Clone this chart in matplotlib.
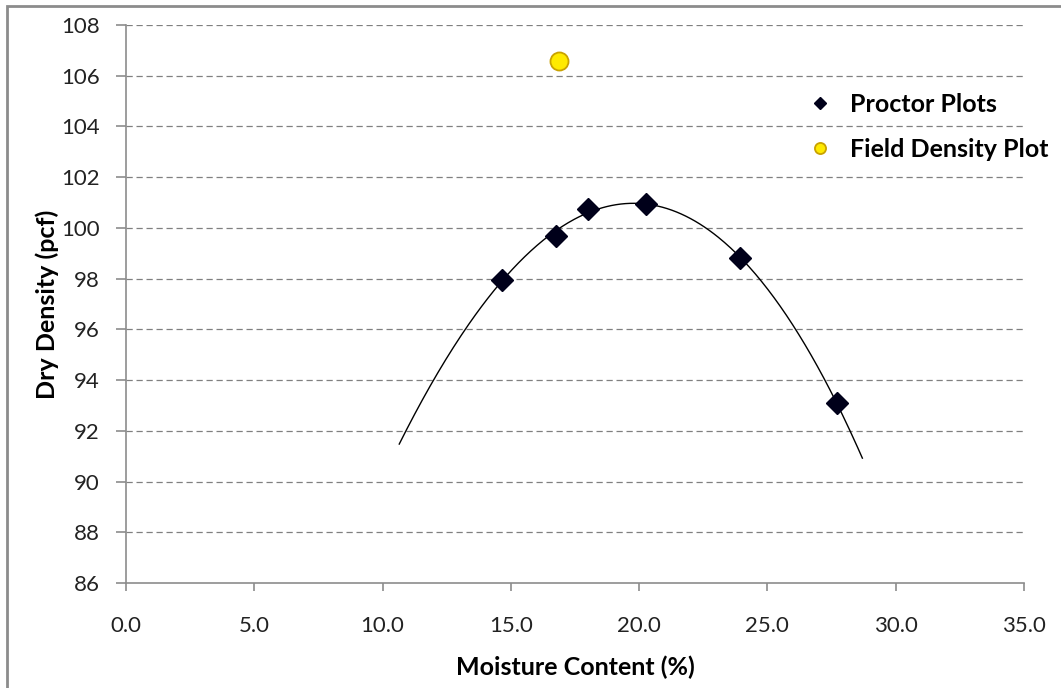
import numpy as np
import matplotlib
matplotlib.use("Agg")
import matplotlib.pyplot as plt
from matplotlib.lines import Line2D
from matplotlib.patches import Rectangle

# Data
proctor_moisture = [14.65, 16.75, 18.0, 20.25, 23.95, 27.7]
proctor_density = [97.95, 99.7, 100.75, 100.95, 98.8, 93.1]
field_moisture = [16.87]
field_density = [106.57]
trend_range = [10.65, 28.7]
trend_order = 3
x_ticks = [0, 5, 10, 15, 20, 25, 30, 35]
y_ticks = [86, 88, 90, 92, 94, 96, 98, 100, 102, 104, 106, 108]
series_labels = ["Proctor Plots", "Field Density Plot"]

plt.rcParams['font.family'] = ['Lato', 'DejaVu Sans']

fig = plt.figure(figsize=(10.61, 6.88), dpi=100)
fig.patch.set_facecolor('white')
# figure border (left/top visible)
fig.patches.append(Rectangle((7/1061, -0.05), 1.2, 1 - 6/688 + 0.05, transform=fig.transFigure,
                             fill=False, edgecolor='#8c8c8c', linewidth=2, zorder=0))

ax = fig.add_axes([126/1061, 1 - 583/688, (1024 - 126)/1061, (583 - 25)/688])
ax.set_xlim(0, 35)
ax.set_ylim(86, 108)
ax.set_xticks(x_ticks)
ax.set_xticklabels([f"{v:.1f}" for v in x_ticks])
ax.set_yticks(y_ticks)
ax.set_yticklabels([str(v) for v in y_ticks])

for y in y_ticks[1:]:
    ax.axhline(y, color='#808080', linestyle=(0, (5, 3)), linewidth=0.9, zorder=1)

for s in ['top', 'right']:
    ax.spines[s].set_visible(False)
for s in ['left', 'bottom']:
    ax.spines[s].set_color('#8c8c8c')
    ax.spines[s].set_linewidth(1.2)
ax.tick_params(axis='both', direction='out', color='#8c8c8c', width=1.2, labelsize=16,
               labelcolor='#222222')
ax.tick_params(axis='y', length=7, pad=12)
ax.tick_params(axis='x', length=6, pad=18)

# trendline
coef = np.polyfit(proctor_moisture, proctor_density, trend_order)
xs = np.linspace(trend_range[0], trend_range[1], 300)
ax.plot(xs, np.polyval(coef, xs), color='black', linewidth=1.0, zorder=3)

ax.plot(proctor_moisture, proctor_density, linestyle='none', marker='D', markersize=11.5,
        color='#00001a', zorder=4, clip_on=False)
ax.plot(field_moisture, field_density, linestyle='none', marker='o', markersize=13,
        markerfacecolor='#FFEA00', markeredgecolor='#C9A200', markeredgewidth=1.3, zorder=4,
        clip_on=False)

ax.set_xlabel("Moisture Content (%)", fontsize=18, fontweight='bold', labelpad=14)
ax.set_ylabel("Dry Density (pcf)", fontsize=18, fontweight='bold', labelpad=1)

handles = [
    Line2D([], [], linestyle='none', marker='D', markersize=6, color='#00001a'),
    Line2D([], [], linestyle='none', marker='o', markersize=8, markerfacecolor='#FFEA00',
           markeredgecolor='#C9A200', markeredgewidth=1.3),
]
leg = fig.legend(handles, series_labels, loc='upper left', bbox_to_anchor=(795/1061, 1 - 80/688),
                 frameon=False, prop={'size': 18, 'weight': 'bold'}, handlelength=1.0,
                 handletextpad=0.7, labelspacing=0.9, borderpad=0)

fig.savefig("out.png", dpi=100, facecolor='white')
